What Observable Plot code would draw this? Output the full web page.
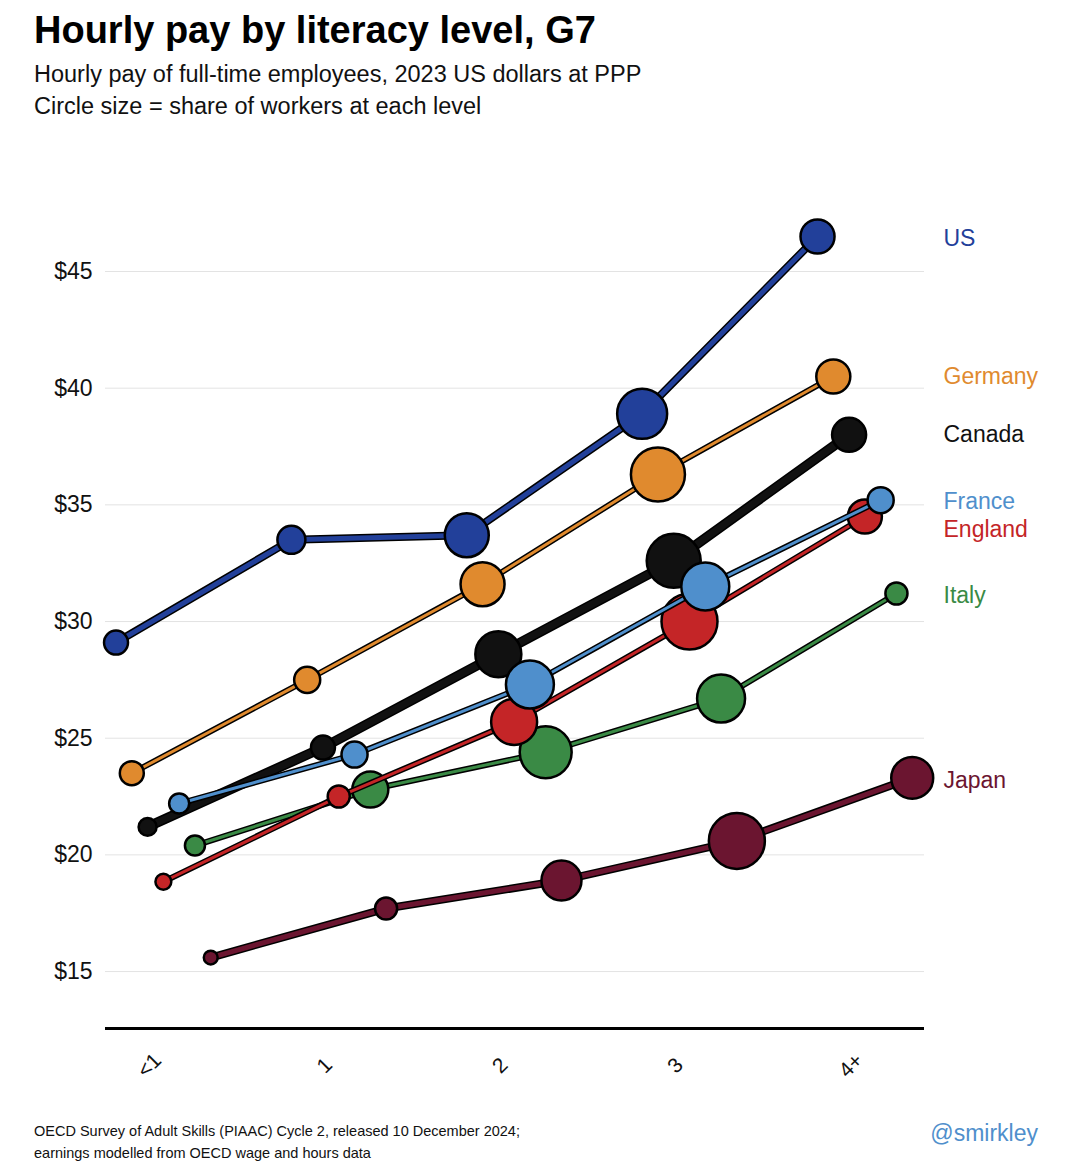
<!DOCTYPE html>
<html><head><meta charset="utf-8">
<script src="https://cdn.jsdelivr.net/npm/d3@7"></script>
<script src="https://cdn.jsdelivr.net/npm/@observablehq/plot@0.6"></script>
<style>
body{margin:0;background:#fff;font-family:"Liberation Sans",Arial,sans-serif;}
#wrap{position:relative;width:1076px;height:1171px;}
h1{position:absolute;left:34px;top:9px;margin:0;font-size:38px;font-weight:bold;}
.sub{position:absolute;left:34px;font-size:23.5px;color:#111;}
#chart{position:absolute;left:0;top:140px;}
.foot{position:absolute;left:34px;top:1120px;font-size:14.5px;line-height:22px;color:#111;}
.handle{position:absolute;right:38px;top:1120px;font-size:23px;color:#4f8fcc;}
</style></head><body>
<div id="wrap">
<h1>Hourly pay by literacy level, G7</h1>
<div class="sub" style="top:61px">Hourly pay of full-time employees, 2023 US dollars at PPP</div>
<div class="sub" style="top:93px">Circle size = share of workers at each level</div>
<div id="chart"></div>
<div class="foot">OECD Survey of Adult Skills (PIAAC) Cycle 2, released 10 December 2024;<br>earnings modelled from OECD wage and hours data</div>
<div class="handle">@smirkley</div>
</div>
<script>
const levels = ["<1","1","2","3","4+"];
const countries = ["US","Germany","Canada","England","France","Italy","Japan"];
const colors = ["#22409a","#e08a2e","#111111","#c42527","#4f8fcc","#3a8a45","#6b1530"];
const lineWidths = [5,3,7,3,3,3,5];
const pay = {
  US:      [29.1,33.5,33.7,38.9,46.5],
  Germany: [23.5,27.5,31.6,36.3,40.5],
  Canada:  [21.2,24.6,28.6,32.6,38.0],
  England: [18.85,22.5,25.7,30.0,34.5],
  France:  [22.2,24.3,27.3,31.5,35.2],
  Italy:   [20.4,22.8,24.4,26.7,31.2],
  Japan:   [15.6,17.7,18.9,20.6,23.3]
};
const share = {
  US:      [6.6,9.0,22.2,28.7,13.3],
  Germany: [6.6,7.8,22.2,33.5,13.3],
  Canada:  [3.7,6.6,24.3,33.5,13.3],
  England: [2.9,5.6,24.3,36.0,13.3],
  France:  [4.6,7.8,26.4,26.4,7.8],
  Italy:   [4.6,14.9,31.0,26.4,5.6],
  Japan:   [2.2,5.6,18.4,36.0,20.2]
};
const labelY = [46.4,40.5,38.0,33.94,35.14,31.1,23.2];
const yTicks = [15,20,25,30,35,40,45];

const rows = [];
countries.forEach((c,ci)=>levels.forEach((l,li)=>rows.push({
  country:c, ci, li, x: li + (ci-3)*0.09, y: pay[c][li], s: share[c][li]
})));
const drawOrder = ["Japan","Italy","England","Canada","France","Germany","US"];
const marks = [
  Plot.ruleY(yTicks,{stroke:"#e3e3e3",strokeWidth:1}),
  Plot.text(yTicks,{x:-0.33,y:d=>d,text:d=>"$"+d,textAnchor:"end",dx:-13,fontSize:23,fill:"#111"}),
  Plot.ruleY([12.56],{stroke:"#000",strokeWidth:3}),
  Plot.text(levels,{x:(d,i)=>i-0.08,y:12.56,text:d=>d,rotate:-45,dy:37,fontSize:21,fill:"#111"})
];
for(const c of drawOrder){
  const ci = countries.indexOf(c);
  const d = rows.filter(r=>r.country===c);
  marks.push(Plot.line(d,{x:"x",y:"y",stroke:"#000",strokeWidth:lineWidths[ci]+3}));
  marks.push(Plot.line(d,{x:"x",y:"y",stroke:colors[ci],strokeWidth:lineWidths[ci]}));
  marks.push(Plot.dot(d,{x:"x",y:"y",r:"s",fill:colors[ci],stroke:"#000",strokeWidth:2.5}));
}
marks.push(Plot.text(countries,{x:4.34,y:(d,i)=>labelY[i],text:d=>d,dx:19,textAnchor:"start",fontSize:23,fill:(d,i)=>colors[i]}));

const chart = Plot.plot({
  width:1076,height:960,
  marginLeft:105,marginRight:152,marginTop:61,marginBottom:72,
  x:{domain:[-0.33,4.34],axis:null},
  y:{domain:[12.56,48],axis:null},
  r:{type:"sqrt",domain:[0,50],range:[0,33]},
  style:{fontFamily:"Liberation Sans, Arial, sans-serif",overflow:"visible"},
  marks
});
document.getElementById("chart").appendChild(chart);
</script></body></html>
